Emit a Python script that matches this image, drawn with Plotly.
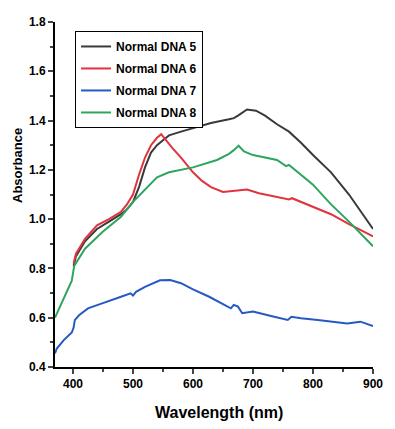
import plotly.graph_objects as go

# ---- data ----
wl_dna5 = [401, 405, 420, 440, 460, 480, 490, 500, 510, 520, 530, 540, 550, 560, 580, 600, 630, 660, 668, 675, 690, 705, 720, 740, 760, 780, 800, 830, 860, 880, 900]
abs_dna5 = [0.81, 0.85, 0.91, 0.96, 0.99, 1.02, 1.04, 1.07, 1.13, 1.21, 1.27, 1.30, 1.32, 1.34, 1.355, 1.37, 1.39, 1.405, 1.41, 1.42, 1.445, 1.44, 1.42, 1.385, 1.355, 1.31, 1.26, 1.19, 1.10, 1.03, 0.96]

wl_dna6 = [401, 405, 420, 440, 460, 480, 490, 500, 510, 520, 530, 540, 547, 555, 565, 580, 600, 615, 630, 650, 670, 690, 710, 740, 760, 765, 780, 800, 830, 860, 900]
abs_dna6 = [0.82, 0.86, 0.92, 0.975, 1.00, 1.03, 1.06, 1.10, 1.18, 1.25, 1.30, 1.33, 1.345, 1.32, 1.29, 1.25, 1.19, 1.155, 1.13, 1.11, 1.115, 1.12, 1.105, 1.09, 1.08, 1.085, 1.07, 1.05, 1.02, 0.98, 0.93]

wl_dna7 = [370, 373, 385, 398, 401, 403, 410, 425, 445, 463, 480, 496, 500, 505, 520, 545, 562, 580, 600, 627, 645, 663, 668, 675, 682, 700, 730, 758, 764, 780, 808, 835, 857, 879, 885, 900]
abs_dna7 = [0.455, 0.475, 0.51, 0.54, 0.56, 0.59, 0.61, 0.638, 0.655, 0.672, 0.685, 0.699, 0.69, 0.705, 0.725, 0.752, 0.753, 0.74, 0.715, 0.685, 0.662, 0.638, 0.652, 0.645, 0.618, 0.625, 0.607, 0.591, 0.604, 0.598, 0.591, 0.582, 0.577, 0.584, 0.578, 0.566]

wl_dna8 = [370, 385, 398, 402, 420, 450, 480, 500, 520, 540, 560, 600, 640, 660, 668, 676, 685, 700, 740, 755, 760, 770, 800, 830, 860, 900]
abs_dna8 = [0.60, 0.68, 0.75, 0.81, 0.88, 0.95, 1.01, 1.07, 1.12, 1.17, 1.19, 1.21, 1.24, 1.265, 1.28, 1.298, 1.275, 1.26, 1.24, 1.215, 1.22, 1.20, 1.14, 1.06, 0.99, 0.89]

series_names = ["Normal DNA 5", "Normal DNA 6", "Normal DNA 7", "Normal DNA 8"]
series_colors = ["#3a3a3a", "#e2323e", "#2559c4", "#2ea55e"]

x_ticks = [400, 500, 600, 700, 800, 900]
y_ticks = [0.4, 0.6, 0.8, 1.0, 1.2, 1.4, 1.6, 1.8]
y_tick_text = ["0.4", "0.6", "0.8", "1.0", "1.2", "1.4", "1.6", "1.8"]

x_title = "Wavelength (nm)"
y_title = "Absorbance"

FONT = "Liberation Sans, Arial, sans-serif"

fig = go.Figure()
for i, (wl, ab, name, col) in enumerate(zip([wl_dna5, wl_dna6, wl_dna7, wl_dna8],
                                            [abs_dna5, abs_dna6, abs_dna7, abs_dna8],
                                            series_names, series_colors)):
    fig.add_trace(go.Scatter(x=wl, y=ab, mode="lines", name=name, legendgroup=f"g{i}",
                             line=dict(color=col, width=2)))

xr = [370, 900]
yr = [0.4, 1.8]

fig.update_layout(
    width=387, height=413,
    margin=dict(l=47, r=22, t=14, b=54),
    paper_bgcolor="white", plot_bgcolor="white",
    font=dict(family=FONT, color="black"),
    showlegend=True,
    legend=dict(x=0.063, y=0.974, xanchor="left", yanchor="top",
                bordercolor="black", borderwidth=1, bgcolor="white",
                font=dict(family=FONT, size=12, color="black", weight="bold"),
                itemwidth=30, tracegroupgap=3),
    xaxis=dict(range=xr, tickvals=x_ticks, ticks="outside", ticklen=5, tickwidth=2,
               showline=True, linecolor="black", linewidth=2, showgrid=False, zeroline=False,
               automargin=False, ticklabeloverflow="allow",
               tickfont=dict(family=FONT, size=12, color="black", weight="bold"),
               minor=dict(ticks="outside", ticklen=3, tickwidth=1.5, dtick=50, tick0=400, showgrid=False)),
    yaxis=dict(range=yr, tickvals=y_ticks, ticktext=y_tick_text, ticks="outside", ticklen=5, tickwidth=2,
               showline=True, linecolor="black", linewidth=2, showgrid=False, zeroline=False,
               automargin=False,
               tickfont=dict(family=FONT, size=12, color="black", weight="bold"),
               minor=dict(ticks="outside", ticklen=3, tickwidth=1.5, dtick=0.1, tick0=0.4, showgrid=False)),
    xaxis2=dict(overlaying="x", side="top", range=xr, tickvals=x_ticks, ticks="inside", ticklen=5, tickwidth=2,
                showticklabels=False, showline=True, linecolor="black", linewidth=2, showgrid=False, zeroline=False,
                automargin=False,
                minor=dict(ticks="inside", ticklen=3, tickwidth=1.5, dtick=50, tick0=400, showgrid=False)),
    yaxis2=dict(overlaying="y", side="right", range=yr, tickvals=y_ticks, ticks="inside", ticklen=5, tickwidth=2,
                showticklabels=False, showline=True, linecolor="#555555", linewidth=2, showgrid=False, zeroline=False,
                automargin=False,
                minor=dict(ticks="inside", ticklen=3, tickwidth=1.5, dtick=0.1, tick0=0.4, showgrid=False)),
    annotations=[
        dict(text=f"<b>{x_title}</b>", xref="paper", yref="paper", x=0.516, y=-0.133,
             xanchor="center", yanchor="middle", showarrow=False,
             font=dict(family=FONT, size=16, color="black")),
        dict(text=f"<b>{y_title}</b>", xref="paper", yref="paper", x=-0.116, y=0.583,
             xanchor="center", yanchor="middle", showarrow=False, textangle=-90,
             font=dict(family=FONT, size=13, color="black")),
    ],
)

fig.write_html("out.html")
